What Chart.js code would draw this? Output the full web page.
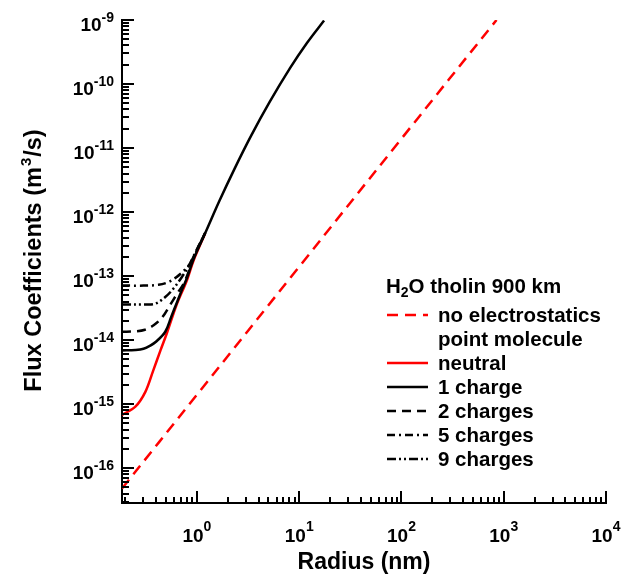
<!DOCTYPE html>
<html>
<head>
<meta charset="utf-8">
<script src="https://cdn.jsdelivr.net/npm/chart.js@4.4.1/dist/chart.umd.min.js"></script>
<style>
  body { margin: 0; background: #fff; }
  canvas { display: block; }
</style>
</head>
<body>
<canvas id="fluxChart" width="622" height="579"></canvas>
<script>
// axis ranges and tick decades
const xMin = 0.185, xMax = 1e4;
const yMin = 2.85e-17, yMax = 1e-9;
const xDecades = [0, 1, 2, 3, 4];
const yDecades = [-16, -15, -14, -13, -12, -11, -10, -9];

// no electrostatics, point molecule
const radiusNoElec = [0.185, 1, 10, 100, 850];
const fluxNoElec = [4.8e-17, 1.4e-15, 1.4e-13, 1.4e-11, 1.0e-9];

// neutral
const radiusNeutral = [0.185, 0.25, 0.313, 0.375, 0.44, 0.51, 0.63, 0.8, 0.927, 1.205];
const fluxNeutral = [6.8e-16, 9.1e-16, 1.55e-15, 3.4e-15, 6.9e-15, 1.3e-14, 3.5e-14, 8.7e-14, 1.75e-13, 4.65e-13];

// 1 charge
const radius1 = [0.185, 0.25, 0.30, 0.35, 0.40, 0.49, 0.56, 0.63, 0.72, 0.8, 0.927, 1.205, 1.66, 2.33, 3.39, 5.11, 8.13, 11.9, 17.5];
const flux1 = [6.9e-15, 7.0e-15, 7.3e-15, 8.2e-15, 9.5e-15, 1.35e-14, 2.3e-14, 3.7e-14, 6.3e-14, 9.4e-14, 1.85e-13, 4.7e-13, 1.5e-12, 4.73e-12, 1.56e-11, 5.16e-11, 1.77e-10, 4.37e-10, 9.8e-10];

// 2 charges
const radius2 = [0.185, 0.25, 0.31, 0.377, 0.456, 0.55, 0.64, 0.72, 0.8, 0.927, 1.205];
const flux2 = [1.35e-14, 1.37e-14, 1.45e-14, 1.7e-14, 2.25e-14, 3.6e-14, 5.3e-14, 7.0e-14, 1.0e-13, 1.95e-13, 4.72e-13];

// 5 charges
const radius5 = [0.185, 0.3, 0.42, 0.53, 0.64, 0.74, 0.84, 0.927, 1.205];
const flux5 = [7.1e-14, 7.1e-14, 7.3e-14, 8.1e-14, 9.8e-14, 1.2e-13, 1.5e-13, 2.05e-13, 4.75e-13];

// 9 charges
const radius9 = [0.185, 0.3, 0.39, 0.49, 0.59, 0.71, 0.835, 0.927, 1.205];
const flux9 = [3.6e-14, 3.6e-14, 3.7e-14, 4.7e-14, 6.4e-14, 9.6e-14, 1.45e-13, 2.0e-13, 4.73e-13];

const legendTitle = ["H", "2", "O tholin 900 km"];
const xTitle = "Radius (nm)";
const yTitle = ["Flux Coefficients (m", "3", "/s)"];

const FONT = '"Liberation Sans", Arial, sans-serif';

function pairs(xs, ys) {
  return xs.map((x, i) => ({ x: x, y: ys[i] }));
}

function line(label, xs, ys, color, dash) {
  return {
    label: label,
    data: pairs(xs, ys),
    borderColor: color,
    borderWidth: 2.5,
    borderDash: dash,
    pointRadius: 0,
    fill: false,
    tension: 0.35,
  };
}

// first dataset is drawn on top
const datasets = [
  line("1 charge", radius1, flux1, "#000", []),
  line("2 charges", radius2, flux2, "#000", [9, 6]),
  line("5 charges", radius5, flux5, "#000", [8, 4, 2, 4]),
  line("9 charges", radius9, flux9, "#000", [9, 3, 2, 3, 2, 3]),
  line("neutral", radiusNeutral, fluxNeutral, "#ff0000", []),
  line("no electrostatics", radiusNoElec, fluxNoElec, "#ff0000", [11, 7]),
];

// legend rows: text and dataset index (null = text only)
const legendRows = [
  { text: "no electrostatics", ds: 5 },
  { text: "point molecule", ds: null },
  { text: "neutral", ds: 4 },
  { text: "1 charge", ds: 0 },
  { text: "2 charges", ds: 1 },
  { text: "5 charges", ds: 2 },
  { text: "9 charges", ds: 3 },
];

function logTicks(min, max) {
  const out = [];
  for (let e = Math.floor(Math.log10(min)); e <= Math.ceil(Math.log10(max)); e++) {
    for (let m = 1; m <= 9; m++) {
      const v = m * Math.pow(10, e);
      if (v >= min * 0.999 && v <= max * 1.001) out.push({ v: v, major: m === 1 });
    }
  }
  return out;
}

function drawPow(ctx, left, baseY, supY, exp, baseSize, supSize) {
  ctx.font = "bold " + baseSize + "px " + FONT;
  ctx.fillText("10", left, baseY);
  const w = ctx.measureText("10").width;
  ctx.font = "bold " + supSize + "px " + FONT;
  ctx.fillText(exp, left + w, supY);
}

function powWidth(ctx, exp, baseSize, supSize) {
  ctx.font = "bold " + baseSize + "px " + FONT;
  const w = ctx.measureText("10").width;
  ctx.font = "bold " + supSize + "px " + FONT;
  return w + ctx.measureText(exp).width;
}

const decorPlugin = {
  id: "decor",
  afterDraw(chart) {
    const ctx = chart.ctx;
    const xs = chart.scales.x, ys = chart.scales.y;
    const a = chart.chartArea;
    ctx.save();
    ctx.strokeStyle = "#000";
    ctx.fillStyle = "#000";
    ctx.lineWidth = 2;

    // inward tick marks
    logTicks(yMin, yMax).forEach((t) => {
      const py = Math.round(ys.getPixelForValue(t.v));
      ctx.beginPath();
      ctx.moveTo(a.left, py);
      ctx.lineTo(a.left + (t.major ? 12 : 7), py);
      ctx.stroke();
    });
    logTicks(xMin, xMax).forEach((t) => {
      const px = Math.round(xs.getPixelForValue(t.v));
      ctx.beginPath();
      ctx.moveTo(px, a.bottom);
      ctx.lineTo(px, a.bottom - (t.major ? 12 : 6));
      ctx.stroke();
    });

    // tick labels
    ctx.textBaseline = "alphabetic";
    ctx.textAlign = "left";
    xDecades.forEach((e) => {
      const px = xs.getPixelForValue(Math.pow(10, e));
      const w = powWidth(ctx, String(e), 19, 14);
      drawPow(ctx, px - w / 2, 542, 531, String(e), 19, 14);
    });
    yDecades.forEach((e) => {
      const py = ys.getPixelForValue(Math.pow(10, e));
      const w = powWidth(ctx, String(e), 19, 14);
      drawPow(ctx, 114 - w, py + 11, py + 2, String(e), 19, 14);
    });

    // axis titles
    ctx.font = "bold 23px " + FONT;
    ctx.textAlign = "center";
    ctx.fillText(xTitle, (a.left + a.right) / 2, 569);

    ctx.save();
    ctx.translate(41, (a.top + a.bottom) / 2);
    ctx.rotate(-Math.PI / 2);
    ctx.textAlign = "left";
    ctx.font = "bold 23.5px " + FONT;
    const w0 = ctx.measureText(yTitle[0]).width;
    const w2 = ctx.measureText(yTitle[2]).width;
    ctx.font = "bold 15px " + FONT;
    const w1 = ctx.measureText(yTitle[1]).width;
    const sx = -(w0 + w1 + w2) / 2;
    ctx.font = "bold 23.5px " + FONT;
    ctx.fillText(yTitle[0], sx, 0);
    ctx.font = "bold 15px " + FONT;
    ctx.fillText(yTitle[1], sx + w0 + 1, -10);
    ctx.font = "bold 23.5px " + FONT;
    ctx.fillText(yTitle[2], sx + w0 + w1 + 2, 0);
    ctx.restore();

    // legend
    ctx.textAlign = "left";
    let lx = 386;
    ctx.font = "bold 20.5px " + FONT;
    ctx.fillText(legendTitle[0], lx, 293);
    lx += ctx.measureText(legendTitle[0]).width;
    ctx.font = "bold 14px " + FONT;
    ctx.fillText(legendTitle[1], lx, 297);
    lx += ctx.measureText(legendTitle[1]).width;
    ctx.font = "bold 20.5px " + FONT;
    ctx.fillText(legendTitle[2], lx, 293);

    legendRows.forEach((row, i) => {
      const cy = 315 + i * 24;
      if (row.ds !== null) {
        const ds = chart.data.datasets[row.ds];
        ctx.save();
        ctx.strokeStyle = ds.borderColor;
        ctx.lineWidth = 2.5;
        ctx.setLineDash(ds.borderDash);
        ctx.beginPath();
        ctx.moveTo(387, cy);
        ctx.lineTo(428, cy);
        ctx.stroke();
        ctx.restore();
      }
      ctx.font = "bold 20.5px " + FONT;
      ctx.fillText(row.text, 438, cy + 7);
    });

    ctx.restore();
  },
};

new Chart(document.getElementById("fluxChart"), {
  type: "line",
  data: { datasets: datasets },
  options: {
    responsive: false,
    devicePixelRatio: 1,
    animation: false,
    layout: { padding: { left: 122, right: 16, top: 20, bottom: 76 } },
    plugins: { legend: { display: false }, tooltip: { enabled: false } },
    scales: {
      x: {
        type: "logarithmic",
        min: xMin,
        max: xMax,
        bounds: "data",
        ticks: { display: false },
        grid: { display: false, drawTicks: false },
        border: { display: true, color: "#000", width: 2 },
      },
      y: {
        type: "logarithmic",
        min: yMin,
        max: yMax,
        bounds: "data",
        ticks: { display: false },
        grid: { display: false, drawTicks: false },
        border: { display: true, color: "#000", width: 2 },
      },
    },
  },
  plugins: [decorPlugin],
});
</script>
</body>
</html>
